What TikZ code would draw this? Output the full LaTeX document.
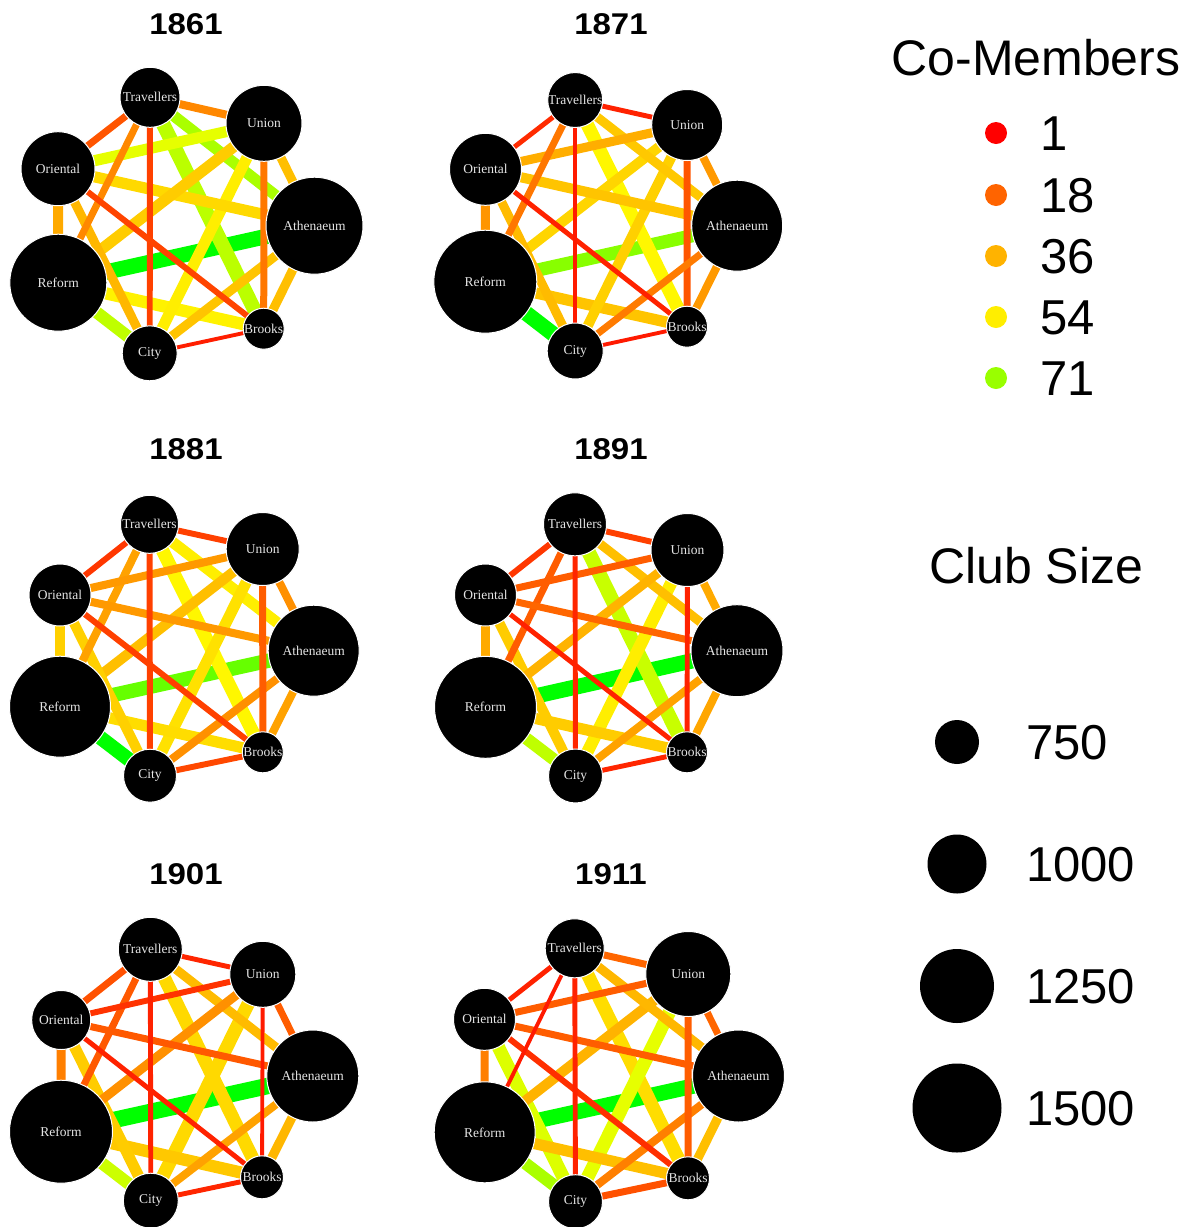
\PassOptionsToPackage{rgb}{xcolor}
\documentclass[tikz,border=0pt]{standalone}
\usepackage{fontspec}
\setmainfont{Liberation Sans}
\newfontfamily\clubfont{Liberation Serif}
\newfontfamily\titlefont[FakeStretch=1.1]{Liberation Sans}
\usetikzlibrary{backgrounds}
\tikzset{
  club/.style={circle, fill=black, draw=white, line width=1pt, inner sep=0pt,
    text=white!90!black, font=\clubfont\fontsize{13.5}{14}\selectfont},
  ptitle/.style={font=\titlefont\bfseries\fontsize{30}{32}\selectfont, anchor=base, inner sep=0pt},
  legtitle/.style={font=\fontsize{50}{52}\selectfont, anchor=base, inner sep=0pt},
  legnum/.style={font=\fontsize{49}{52}\selectfont, anchor=base west, inner sep=0pt},
  legdot/.style={circle, inner sep=0pt, minimum size=22pt},
  sizedot/.style={circle, fill=black, inner sep=0pt},
}
\newcommand\club[5]{\node[club, minimum size=#4pt] (#1) at (#2,#3) {#5};}
\newcommand\edg[4]{\definecolor{ectmp}{Hsb}{#3,1,1}\colorlet{ec}[rgb]{ectmp}\draw[line width={1.05*#4pt+0.7pt}, draw=ec] (#1.center) -- (#2.center);}
\newcommand\huecol[2]{\definecolor{hctmp}{Hsb}{#2,1,1}\colorlet{#1}[rgb]{hctmp}}
\begin{document}
\begin{tikzpicture}[x=1pt,y=-1pt]
\useasboundingbox (0,0) rectangle (1202,1227);
\begin{pgfonlayer}{background}
\fill[white] (0,0) rectangle (1202,1227);
\end{pgfonlayer}

% ---------------- titles
\node[ptitle] (t1) at (186,34) {1861};
\node[ptitle] (t2) at (611,34) {1871};
\node[ptitle] (t3) at (186,459.5) {1881};
\node[ptitle] (t4) at (611,459.5) {1891};
\node[ptitle] (t5) at (186,884.5) {1901};
\node[ptitle] (t6) at (611,884.5) {1911};

% ---------------- panel 1861
\club{aT}{150}{97.3}{60}{Travellers}
\club{aU}{264}{123.3}{76}{Union}
\club{aO}{58}{168.7}{74}{Oriental}
\club{aA}{314.5}{225.7}{97}{Athenaeum}
\club{aR}{58.3}{282.7}{97}{Reform}
\club{aB}{263.7}{328.7}{41}{Brooks}
\club{aC}{149.7}{353.3}{55}{City}
\begin{pgfonlayer}{background}
\edg{aA}{aR}{120}{14}
\edg{aT}{aB}{76}{13}
\edg{aR}{aC}{75}{11}
\edg{aR}{aB}{57}{11}
\edg{aT}{aA}{80}{10}
\edg{aU}{aO}{66}{10}
\edg{aU}{aC}{56}{10}
\edg{aO}{aA}{51}{10}
\edg{aU}{aR}{48}{10}
\edg{aO}{aR}{40}{9}
\edg{aU}{aA}{45}{8}
\edg{aO}{aC}{43}{8}
\edg{aA}{aB}{45}{8}
\edg{aA}{aC}{46}{8}
\edg{aT}{aU}{32}{7}
\edg{aT}{aR}{32}{6}
\edg{aU}{aB}{28}{6}
\edg{aT}{aO}{20}{6}
\edg{aT}{aC}{15}{5}
\edg{aO}{aB}{16}{5}
\edg{aB}{aC}{7}{3}
\end{pgfonlayer}

% ---------------- panel 1871
\club{bT}{575.2}{100}{55}{Travellers}
\club{bU}{687.2}{125}{71}{Union}
\club{bO}{485.5}{169.3}{72}{Oriental}
\club{bA}{737.2}{225.7}{91}{Athenaeum}
\club{bR}{485.3}{281.7}{103}{Reform}
\club{bB}{687}{326.7}{41}{Brooks}
\club{bC}{575.2}{351}{56}{City}
\begin{pgfonlayer}{background}
\edg{bR}{bC}{120}{14}
\edg{bA}{bR}{88}{12}
\edg{bT}{bB}{58}{12}
\edg{bR}{bB}{46}{10}
\edg{bU}{bR}{50}{9}
\edg{bU}{bC}{49}{9}
\edg{bO}{bA}{46}{9}
\edg{bT}{bA}{47}{8}
\edg{bU}{bO}{41}{8}
\edg{bO}{bR}{35}{8}
\edg{bO}{bC}{44}{8}
\edg{bU}{bA}{36}{7}
\edg{bA}{bB}{36}{7}
\edg{bT}{bR}{28}{6}
\edg{bU}{bB}{20}{6}
\edg{bA}{bC}{29}{6}
\edg{bT}{bU}{8}{4}
\edg{bT}{bO}{10}{4}
\edg{bO}{bB}{8}{4}
\edg{bT}{bC}{6}{3.5}
\edg{bB}{bC}{6}{3}
\end{pgfonlayer}

% ---------------- panel 1881
\club{cT}{149.5}{524.3}{58}{Travellers}
\club{cU}{262.7}{549}{73}{Union}
\club{cO}{60}{595}{62}{Oriental}
\club{cA}{313.7}{650.7}{91}{Athenaeum}
\club{cR}{60}{706.7}{101}{Reform}
\club{cB}{262.8}{752.3}{41}{Brooks}
\club{cC}{150}{775.7}{53}{City}
\begin{pgfonlayer}{background}
\edg{cR}{cC}{120}{13}
\edg{cA}{cR}{96}{13}
\edg{cT}{cB}{58}{12}
\edg{cT}{cA}{56}{10}
\edg{cU}{cC}{53}{10}
\edg{cR}{cB}{52}{10}
\edg{cU}{cR}{45}{9}
\edg{cO}{cR}{49}{9}
\edg{cO}{cC}{49}{9}
\edg{cT}{cR}{38}{7}
\edg{cU}{cO}{36}{7}
\edg{cU}{cA}{34}{7}
\edg{cO}{cA}{36}{7}
\edg{cA}{cB}{38}{7}
\edg{cA}{cC}{34}{7}
\edg{cU}{cB}{22}{6}
\edg{cT}{cU}{15}{5}
\edg{cT}{cO}{13}{5}
\edg{cT}{cC}{15}{5}
\edg{cO}{cB}{15}{5}
\edg{cB}{cC}{17}{5}
\end{pgfonlayer}

% ---------------- panel 1891
\club{dT}{575}{524.3}{63}{Travellers}
\club{dU}{687.5}{550}{73}{Union}
\club{dO}{485.5}{595}{62}{Oriental}
\club{dA}{737}{650.7}{92}{Athenaeum}
\club{dR}{485.5}{707.3}{102}{Reform}
\club{dB}{687}{752.3}{41}{Brooks}
\club{dC}{575.5}{776}{54}{City}
\begin{pgfonlayer}{background}
\edg{dA}{dR}{120}{14}
\edg{dT}{dB}{73}{13}
\edg{dR}{dC}{75}{11}
\edg{dU}{dC}{56}{11}
\edg{dR}{dB}{48}{10}
\edg{dO}{dC}{48}{9}
\edg{dT}{dA}{45}{8}
\edg{dU}{dR}{42}{8}
\edg{dO}{dR}{40}{8}
\edg{dU}{dA}{40}{7}
\edg{dA}{dB}{39}{7}
\edg{dA}{dC}{38}{7}
\edg{dT}{dR}{22}{6}
\edg{dU}{dO}{22}{6}
\edg{dO}{dA}{24}{6}
\edg{dT}{dU}{15}{5}
\edg{dT}{dO}{13}{5}
\edg{dT}{dC}{9}{4}
\edg{dU}{dB}{8}{4}
\edg{dO}{dB}{8}{4}
\edg{dB}{dC}{9}{4}
\end{pgfonlayer}

% ---------------- panel 1901
\club{eT}{150.3}{949.3}{64}{Travellers}
\club{eU}{262.8}{974.3}{66}{Union}
\club{eO}{61.2}{1020}{59}{Oriental}
\club{eA}{312.8}{1076}{92}{Athenaeum}
\club{eR}{61}{1131.7}{103}{Reform}
\club{eB}{262}{1177.3}{43}{Brooks}
\club{eC}{150.8}{1200.7}{55}{City}
\begin{pgfonlayer}{background}
\edg{eA}{eR}{120}{15}
\edg{eT}{eB}{51}{12}
\edg{eU}{eC}{51}{12}
\edg{eR}{eB}{47}{11}
\edg{eR}{eC}{72}{11}
\edg{eO}{eC}{48}{10}
\edg{eT}{eA}{44}{8}
\edg{eU}{eR}{34}{8}
\edg{eO}{eR}{30}{8}
\edg{eA}{eB}{43}{8}
\edg{eA}{eC}{38}{7}
\edg{eT}{eO}{19}{6}
\edg{eT}{eR}{21}{6}
\edg{eU}{eA}{22}{6}
\edg{eO}{eA}{21}{6}
\edg{eU}{eO}{12}{5}
\edg{eT}{eU}{9}{4}
\edg{eT}{eC}{8}{4}
\edg{eO}{eB}{8}{4}
\edg{eB}{eC}{9}{4}
\edg{eU}{eB}{6}{3}
\end{pgfonlayer}

% ---------------- panel 1911
\club{fT}{574.7}{948.3}{59}{Travellers}
\club{fU}{688.3}{974}{85}{Union}
\club{fO}{484.5}{1019.3}{62}{Oriental}
\club{fA}{738.5}{1076}{92}{Athenaeum}
\club{fR}{484.7}{1132.3}{101}{Reform}
\club{fB}{688}{1178.3}{43}{Brooks}
\club{fC}{575.5}{1201.7}{54}{City}
\begin{pgfonlayer}{background}
\edg{fA}{fR}{120}{14}
\edg{fT}{fB}{52}{12}
\edg{fU}{fC}{66}{12}
\edg{fO}{fC}{68}{12}
\edg{fR}{fC}{80}{11}
\edg{fR}{fB}{45}{10}
\edg{fU}{fR}{42}{9}
\edg{fT}{fA}{43}{8}
\edg{fA}{fB}{45}{8}
\edg{fO}{fR}{30}{7}
\edg{fA}{fC}{30}{7}
\edg{fT}{fU}{24}{6}
\edg{fU}{fO}{22}{6}
\edg{fU}{fA}{24}{6}
\edg{fU}{fB}{22}{6}
\edg{fO}{fA}{22}{6}
\edg{fB}{fC}{19}{6}
\edg{fO}{fB}{11}{5}
\edg{fT}{fO}{8}{4}
\edg{fT}{fC}{8}{4}
\edg{fT}{fR}{6}{3}
\end{pgfonlayer}

% ---------------- legend: co-members
\node[legtitle] (cmtitle) at (1036,75) {Co-Members};
\huecol{lc1}{0}
\huecol{lc2}{23.5}
\huecol{lc3}{42}
\huecol{lc4}{56}
\huecol{lc5}{84}
\node[legdot, fill=lc1] (cd1) at (996,133) {};
\node[legdot, fill=lc2] (cd2) at (996,195) {};
\node[legdot, fill=lc3] (cd3) at (996,256) {};
\node[legdot, fill=lc4] (cd4) at (996,317) {};
\node[legdot, fill=lc5] (cd5) at (996,378) {};
\node[legnum] (cn1) at (1040,150.5) {1};
\node[legnum] (cn2) at (1040,212.5) {18};
\node[legnum] (cn3) at (1040,273.5) {36};
\node[legnum] (cn4) at (1040,334.5) {54};
\node[legnum] (cn5) at (1040,395.5) {71};

% ---------------- legend: club size
\node[legtitle] (cstitle) at (1036,583) {Club Size};
\node[sizedot, minimum size=44pt] (sd1) at (957,742) {};
\node[sizedot, minimum size=59pt] (sd2) at (957,864) {};
\node[sizedot, minimum size=74pt] (sd3) at (957,986) {};
\node[sizedot, minimum size=89pt] (sd4) at (957,1108) {};
\node[legnum] (sn1) at (1026,759.5) {750};
\node[legnum] (sn2) at (1026,881.5) {1000};
\node[legnum] (sn3) at (1026,1003.5) {1250};
\node[legnum] (sn4) at (1026,1125.5) {1500};
\end{tikzpicture}
\end{document}
